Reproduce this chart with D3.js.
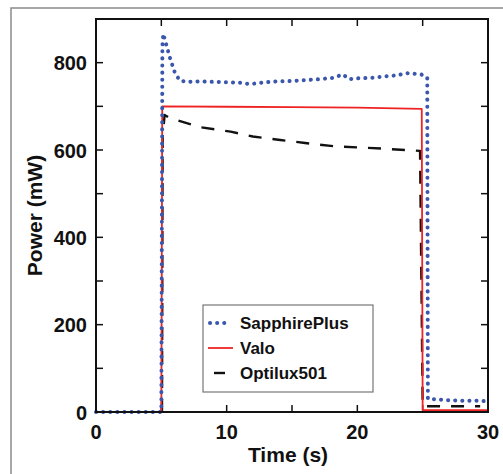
<!DOCTYPE html>
<html>
    <head>
        <meta charset="utf-8">
        <title>Power vs Time</title>
        <style>
body {
    margin: 0;
    background-color: white;
    font-family: 'Liberation Sans', Arial, sans-serif;
}

svg {
    display: block;
}

.tick-label {
    font-size: 20px;
    font-weight: bold;
    fill: #111;
}

.axis-title {
    font-size: 21px;
    font-weight: bold;
    fill: #111;
}

.legend-text {
    font-size: 17px;
    font-weight: bold;
    fill: #111;
}
        </style>
        <script src="https://cdn.jsdelivr.net/npm/d3@7"></script>
    </head>
    <body>
        <script>
var width = 503,
    height = 474;

// plot box edges (window.top is read-only, so no plain "top")
var plotLeft = 96, plotTop = 19, plotRight = 488, plotBottom = 412;

// SapphirePlus (blue dotted)
var sapphireTime  = [0, 5.0, 5.08, 5.15, 5.3, 5.65, 6.0, 6.4, 7, 8, 9, 10, 11, 11.8, 13, 13.8, 15, 16, 17, 18.1, 18.9, 19.4, 20, 21, 22, 23, 23.8, 24.9, 25.35, 25.4, 26, 27, 28, 29, 29.7];
var sapphirePower = [0, 0, 840, 866, 850, 812, 780, 759, 756, 757, 756, 755, 754, 751, 755, 757, 758, 760, 762, 765, 773, 762, 764, 765, 768, 771, 776, 773, 766, 30, 29, 27, 26, 26, 25];

// Valo (red solid)
var valoTime  = [0, 5.0, 5.07, 10, 15, 20, 24.93, 25.0, 30];
var valoPower = [0, 0, 700, 699, 698, 697, 694, 4, 4];

// Optilux501 (black dashed)
var optiluxTime  = [5.05, 5.1, 5.25, 5.6, 8, 10.3, 12, 14.1, 16, 18.4, 20, 22, 24.3, 24.8, 25.0, 29.4];
var optiluxPower = [0, 630, 680, 674, 652, 642, 631, 623, 616, 608, 606, 603, 599, 598, 13, 13];

var xTicks = [0, 10, 20, 30];
var yTicks = [0, 200, 400, 600, 800];

var svg = d3.select('body')
    .append('svg')
    .attr('width', width)
    .attr('height', height);

// outer gray frame (top and left edges only visible)
svg.append('path')
    .attr('d', 'M 11 ' + height + ' L 11 8 L ' + width + ' 8')
    .attr('fill', 'none')
    .attr('stroke', '#8a8a8a')
    .attr('stroke-width', 1.5);

var x = d3.scaleLinear().domain([0, 30]).range([plotLeft, plotRight]);
var y = d3.scaleLinear().domain([0, 900]).range([plotBottom, plotTop]);

var tickLen = 7;

// ticks, inward on all four sides
var minorX = d3.range(0, 31, 5);
var minorY = d3.range(0, 901, 100);
var tickG = svg.append('g').attr('stroke', '#111').attr('stroke-width', 1.5);
minorX.forEach(function (t) {
    tickG.append('line').attr('x1', x(t)).attr('x2', x(t)).attr('y1', plotBottom).attr('y2', plotBottom - tickLen);
    tickG.append('line').attr('x1', x(t)).attr('x2', x(t)).attr('y1', plotTop).attr('y2', plotTop + tickLen);
});
minorY.forEach(function (v) {
    tickG.append('line').attr('x1', plotLeft).attr('x2', plotLeft + tickLen).attr('y1', y(v)).attr('y2', y(v));
    tickG.append('line').attr('x1', plotRight).attr('x2', plotRight - tickLen).attr('y1', y(v)).attr('y2', y(v));
});

// tick labels
svg.selectAll('.xlabel')
    .data(xTicks)
    .enter().append('text')
    .attr('class', 'tick-label')
    .attr('x', function (d) { return x(d); })
    .attr('y', 439)
    .attr('text-anchor', 'middle')
    .text(function (d) { return d; });

svg.selectAll('.ylabel')
    .data(yTicks)
    .enter().append('text')
    .attr('class', 'tick-label')
    .attr('x', 87)
    .attr('y', function (d) { return y(d) + 7.5; })
    .attr('text-anchor', 'end')
    .text(function (d) { return d; });

// axis titles
svg.append('text')
    .attr('class', 'axis-title')
    .attr('x', (plotLeft + plotRight) / 2 - 4)
    .attr('y', 462)
    .attr('text-anchor', 'middle')
    .text('Time (s)');

svg.append('text')
    .attr('class', 'axis-title')
    .attr('transform', 'translate(42,' + ((plotTop + plotBottom) / 2) + ') rotate(-90)')
    .attr('text-anchor', 'middle')
    .text('Power (mW)');

// series
var line = d3.line()
    .x(function (d) { return x(d[0]); })
    .y(function (d) { return y(d[1]); });

// drawn in this order: black under red under blue
var series = [
    { name: 'Optilux501', t: optiluxTime, p: optiluxPower, color: '#111', width: 2.4, dash: '13,11', cap: 'butt' },
    { name: 'Valo', t: valoTime, p: valoPower, color: '#ee2424', width: 1.8, dash: null, cap: 'butt' },
    { name: 'SapphirePlus', t: sapphireTime, p: sapphirePower, color: '#3a57ad', width: 4, dash: '0.1,7', cap: 'round' }
];

series.forEach(function (s) {
    var pts = s.t.map(function (t, i) { return [t, s.p[i]]; });
    var path = svg.append('path')
        .datum(pts)
        .attr('d', line)
        .attr('fill', 'none')
        .attr('stroke', s.color)
        .attr('stroke-width', s.width)
        .attr('stroke-linecap', s.cap)
        .attr('stroke-linejoin', 'round');
    if (s.dash) path.attr('stroke-dasharray', s.dash);
});

// plot frame
svg.append('rect')
    .attr('x', plotLeft)
    .attr('y', plotTop)
    .attr('width', plotRight - plotLeft)
    .attr('height', plotBottom - plotTop)
    .attr('fill', 'none')
    .attr('stroke', '#111')
    .attr('stroke-width', 2);

// legend
var legend = svg.append('g').attr('transform', 'translate(203,305)');
legend.append('rect')
    .attr('width', 170)
    .attr('height', 87)
    .attr('fill', 'white')
    .attr('stroke', '#777')
    .attr('stroke-width', 1.2);

var legendItems = [series[2], series[1], series[0]];
legendItems.forEach(function (s, i) {
    var yy = 18 + i * 25;
    var l = legend.append('line')
        .attr('y1', yy).attr('y2', yy)
        .attr('stroke', s.color)
        .attr('stroke-width', s.width)
        .attr('stroke-linecap', s.cap);
    if (s.name === 'SapphirePlus') {
        l.attr('x1', 7).attr('x2', 22).attr('stroke-dasharray', '0.1,7');
    } else if (s.name === 'Optilux501') {
        l.attr('x1', 11).attr('x2', 22);
    } else {
        l.attr('x1', 5).attr('x2', 30);
    }
    legend.append('text')
        .attr('class', 'legend-text')
        .attr('x', 37)
        .attr('y', yy + 6)
        .text(s.name);
});
        </script>
    </body>
</html>
